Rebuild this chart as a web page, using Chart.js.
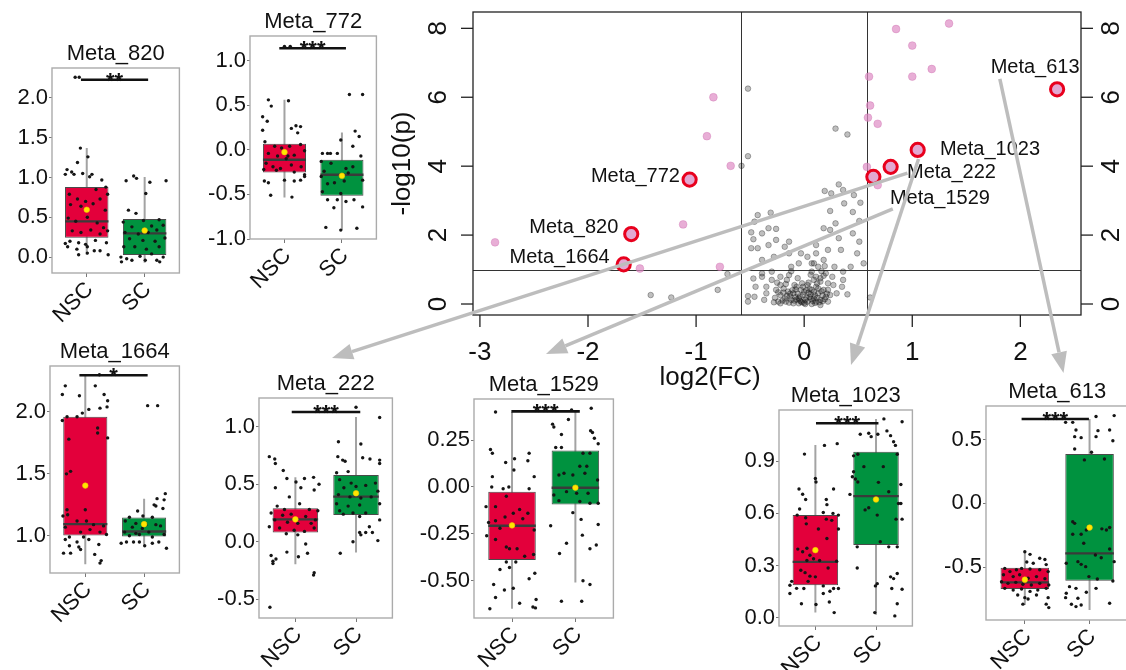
<!DOCTYPE html>
<html><head><meta charset="utf-8">
<script src="https://cdn.jsdelivr.net/npm/chart.js@4.4.1/dist/chart.umd.min.js"></script>
<style>
html,body{margin:0;padding:0;background:#fff;width:1126px;height:670px;overflow:hidden;}
#stage{position:relative;width:1126px;height:670px;overflow:hidden;}
canvas.c{position:absolute;}
</style></head>
<body><div id="stage"></div>
<script>
// ---------------- DATA ----------------
const groups = ['NSC', 'SC'];

// Volcano plot
const vXTicks = [-3, -2, -1, 0, 1, 2];
const vYTicks = [0, 2, 4, 6, 8];
const fcCut = [-0.585, 0.585];
const pCut = 1;
const hlNames = ['Meta_613','Meta_1023','Meta_222','Meta_1529','Meta_772','Meta_820','Meta_1664'];
const hlFC = [2.34, 1.05, 0.80, 0.64, -1.06, -1.60, -1.67];
const hlP = [6.23, 4.47, 3.98, 3.69, 3.61, 2.03, 1.15];
const sigPoints = [[-2.86,1.79],[-1.52,1.03],[-1.12,2.31],[-0.90,4.87],[-0.84,6.00],[-0.68,4.01],[-0.78,1.08],[0.58,3.98],[0.59,5.41],[0.61,5.76],[0.60,6.60],[0.68,5.23],[0.68,3.45],[0.85,7.98],[1.00,7.50],[1.00,6.60],[1.18,6.82],[1.34,8.14]];
const nsPoints = [[-0.52,6.25],[0.29,5.09],[0.40,4.92],[-0.52,4.29],[-0.58,4.01],[0.32,3.47],[0.19,3.28],[0.25,3.21],[0.36,3.31],[0.46,3.16],[0.52,2.94],[0.37,2.92],[0.24,2.70],[0.45,2.67],[0.29,2.34],[0.51,2.41],[-0.43,2.58],[-0.31,2.65],[-0.46,2.39],[-0.33,2.20],[-0.26,2.18],[-0.49,2.08],[-0.47,1.88],[-0.39,2.05],[-0.26,1.86],[-0.18,1.66],[-0.14,1.81],[-0.43,1.62],[-0.33,1.71],[0.18,2.20],[0.24,2.15],[0.32,1.91],[0.22,1.57],[0.34,1.57],[0.11,1.71],[0.51,1.81],[-0.39,1.28],[-0.28,1.37],[-0.14,1.47],[-0.05,1.18],[0.07,1.18],[0.18,1.28],[0.28,1.08],[0.55,1.18],[0.36,0.94],[-0.22,0.79],[-0.39,0.89],[-0.47,0.74],[-0.35,0.50],[-0.45,0.50],[0.35,0.50],[0.40,0.28],[-0.52,0.23],[-0.46,0.21],[-0.52,0.07],[-0.71,0.87],[-0.80,0.41],[-1.42,0.26],[-1.23,0.19],[0.61,0.19],
[-0.35,0.31],[-0.26,0.41],[-0.22,0.26],[-0.18,0.16],[-0.15,0.36],[-0.12,0.12],[-0.10,0.31],[-0.07,0.50],[-0.05,0.16],[-0.03,0.07],[-0.01,0.26],[0.01,0.12],[0.03,0.07],[0.05,0.21],[0.07,0.41],[0.09,0.16],[0.11,0.50],[0.13,0.31],[0.15,0.12],[0.18,0.41],[0.20,0.21],[0.22,0.60],[0.11,0.79],[0.07,0.94],[0.13,1.08],[0.09,1.18],[-0.14,0.84],[-0.12,1.08],[-0.16,0.70],[-0.22,0.55],[-0.30,0.70],[-0.10,0.02],[0.01,0.00],[-0.05,0.02],[0.07,0.00],[0.15,-0.03],[-0.17,0.07],[0.11,0.07],[-0.03,0.41],[0.03,0.55],[0.22,0.07],[0.24,0.26],[-0.24,0.07],[-0.37,0.12],[-0.22,0.02],
[0.20,0.89],[0.26,0.79],[0.15,0.65],[0.22,0.41],[0.30,0.31],[0.36,0.70],[0.43,1.08],[0.49,1.47],[0.45,2.05],[0.11,1.47],[0.03,1.37],[-0.03,1.47],[-0.39,0.79],[-0.30,0.94],[-0.49,1.62],
[-0.08,0.20],[0.00,0.35],[0.06,0.28],[-0.02,0.05],[0.12,0.18],[0.17,0.25],[-0.13,0.22],[0.04,0.62],[-0.06,0.75],[0.16,0.95],[0.19,1.10],[-0.19,0.45],[0.27,0.55],[0.10,0.03],[-0.09,0.10],
[-0.20,0.10],[-0.16,0.24],[-0.11,0.40],[-0.06,0.30],[-0.04,0.22],[0.02,0.18],[0.04,0.33],[0.08,0.09],[0.10,0.25],[0.14,0.05],[0.16,0.37],[0.19,0.14],[-0.27,0.18],[-0.24,0.34],[-0.14,0.04],[-0.07,0.13],[0.00,0.03],[0.05,0.44],[0.12,0.60],[0.15,0.75],[-0.02,0.60],[-0.09,0.55],[-0.17,0.58],[-0.25,0.62],[0.09,0.70],[0.18,0.82],[-0.12,0.95],[0.06,0.85],[-0.28,0.05],[0.21,0.30],
[-0.13,0.30],[-0.08,0.42],[-0.04,0.10],[0.02,0.40],[0.06,0.15],[0.13,0.45],[0.17,0.08],[-0.19,0.33],[-0.01,0.50],[0.09,0.35]];

// Box plots: [lowerWhisker, Q1, median, Q3, upperWhisker] for NSC, SC
const m820Box = [[0.03,0.243,0.449,0.880,1.371],[-0.07,0.025,0.298,0.478,1.006]];
const m820Mean = [0.595, 0.335];
const m820Sig = [0.90, 2.06, 2.23];
const m820Stars = '**';
const m820Ticks = [0, 0.5, 1.0, 1.5, 2.0];
const m820NSC = [[0.80,2.26],[0.87,2.26],[0.89,1.37],[0.84,1.19],[1.02,1.26],[0.66,1.10],[0.63,1.04],[0.74,1.07],[0.78,1.04],[0.93,1.05],[1.09,1.04],[1.05,1.01],[1.26,0.97],[1.33,0.88],[1.16,0.85],[0.70,0.79],[0.84,0.73],[0.98,0.70],[1.23,0.73],[1.36,0.79],[0.72,0.66],[0.90,0.64],[1.11,0.67],[1.32,0.59],[0.68,0.49],[0.81,0.45],[1.01,0.50],[1.18,0.43],[1.29,0.37],[1.36,0.33],[0.75,0.33],[0.90,0.31],[1.07,0.34],[1.23,0.29],[0.71,0.20],[0.86,0.18],[0.98,0.16],[1.15,0.21],[1.34,0.18],[0.67,0.13],[0.83,0.10],[1.01,0.13],[1.23,0.08],[0.86,0.03],[1.01,0.05],[1.37,0.03],[1.13,0.08],[0.63,0.17]];
const m820SC = [[1.81,1.02],[1.86,0.99],[1.68,0.96],[2.09,0.94],[2.37,0.96],[2.02,0.80],[1.72,0.59],[1.85,0.55],[1.63,0.44],[1.98,0.46],[2.25,0.47],[1.78,0.38],[2.12,0.39],[2.32,0.40],[1.66,0.31],[1.89,0.29],[2.06,0.31],[2.21,0.34],[1.74,0.23],[1.97,0.21],[2.18,0.20],[2.35,0.24],[1.64,0.13],[1.83,0.13],[2.03,0.10],[2.25,0.13],[1.59,0.00],[1.69,-0.02],[1.78,-0.04],[1.60,-0.06],[2.01,-0.04],[2.21,-0.04],[2.26,-0.06],[2.32,0.00],[1.92,0.01],[2.12,0.04]];

const m772Box = [[-0.534,-0.254,-0.112,0.067,0.56],[-0.896,-0.515,-0.28,-0.112,0.194]];
const m772Mean = [-0.026, -0.291];
const m772Sig = [0.91, 2.07, 1.138];
const m772Stars = '***';
const m772Ticks = [-1.0, -0.5, 0.0, 0.5, 1.0];
const m772NSC = [[1.00,1.16],[1.10,1.16],[0.72,0.56],[0.77,0.49],[0.62,0.37],[0.70,0.32],[1.07,0.55],[0.62,0.22],[1.12,0.24],[1.20,0.27],[1.28,0.26],[1.23,0.19],[0.66,0.09],[0.83,0.04],[0.95,0.02],[1.09,0.04],[1.28,0.06],[1.35,-0.01],[0.72,-0.04],[0.88,-0.07],[1.17,-0.06],[0.68,-0.15],[0.80,-0.19],[1.03,-0.10],[1.12,-0.17],[1.29,-0.19],[0.64,-0.22],[0.86,-0.23],[1.17,-0.25],[1.35,-0.28],[0.65,-0.35],[0.72,-0.37],[1.00,-0.34],[1.17,-0.35],[1.28,-0.34],[1.35,-0.30],[0.76,-0.51],[1.13,-0.53],[0.93,-0.21],[1.06,-0.07]];
const m772SC = [[2.13,0.62],[2.36,0.62],[2.23,0.21],[2.30,0.15],[1.98,0.11],[2.19,0.04],[1.66,-0.04],[1.75,-0.04],[1.80,-0.04],[1.92,-0.04],[2.33,-0.07],[1.64,-0.13],[1.81,-0.15],[2.07,-0.21],[2.19,-0.19],[1.69,-0.24],[1.98,-0.28],[2.11,-0.26],[1.75,-0.38],[1.87,-0.37],[2.04,-0.35],[1.66,-0.47],[1.98,-0.49],[1.75,-0.56],[1.92,-0.56],[2.07,-0.58],[1.86,-0.65],[2.36,-0.64],[2.21,-0.56],[1.72,-0.87],[1.98,-0.90],[2.26,-0.88],[2.36,-0.34],[1.64,-0.30]];

const m1664Box = [[0.77,1.003,1.094,1.96,2.30],[0.93,0.995,1.035,1.147,1.30]];
const m1664Mean = [1.405, 1.094];
const m1664Sig = [0.90, 2.06, 2.295];
const m1664Stars = '*';
const m1664Ticks = [1.0, 1.5, 2.0];
const m1664NSC = [[0.66,2.21],[1.17,2.21],[1.24,2.30],[0.90,2.13],[1.32,2.14],[1.38,2.09],[0.61,2.14],[1.06,2.02],[1.25,2.03],[1.37,2.04],[0.95,1.99],[0.61,1.93],[0.69,1.96],[0.86,1.96],[1.21,1.87],[1.21,1.83],[1.38,1.79],[0.72,1.78],[0.75,1.52],[0.68,1.50],[0.69,1.21],[0.70,1.17],[1.00,1.21],[0.62,1.16],[0.86,1.12],[1.02,1.12],[1.14,1.09],[1.31,1.08],[0.66,1.07],[0.92,1.03],[1.08,1.05],[1.25,1.03],[0.73,0.99],[0.97,0.99],[1.36,1.01],[0.66,0.97],[0.86,0.95],[1.06,0.97],[1.23,0.93],[0.73,0.92],[0.92,0.89],[0.63,0.86],[0.75,0.86],[1.16,0.85],[1.25,0.78],[1.27,0.80],[0.89,0.91]];
const m1664SC = [[2.06,2.05],[2.23,2.05],[2.36,1.34],[2.22,1.30],[2.34,1.29],[2.17,1.25],[2.20,1.24],[2.32,1.22],[1.89,1.20],[1.75,1.15],[1.98,1.16],[2.14,1.15],[1.68,1.12],[1.86,1.10],[2.03,1.09],[2.20,1.09],[1.80,1.07],[1.97,1.06],[2.28,1.08],[1.67,1.03],[1.86,1.02],[2.08,1.03],[2.34,1.01],[1.75,1.00],[1.92,1.01],[2.14,0.99],[1.61,0.94],[1.70,0.95],[1.82,0.95],[1.92,0.95],[2.01,0.92],[2.14,0.94],[2.38,0.90],[2.25,0.95]];

const m222Box = [[-0.195,0.081,0.195,0.291,0.561],[-0.093,0.233,0.392,0.581,1.084]];
const m222Mean = [0.195, 0.422];
const m222Sig = [0.94, 2.07, 1.128];
const m222Stars = '***';
const m222Ticks = [-0.5, 0.0, 0.5, 1.0];
const m222NSC = [[0.57,0.74],[0.66,0.72],[0.67,0.68],[0.80,0.62],[0.86,0.55],[1.01,0.52],[1.15,0.55],[1.30,0.56],[1.39,0.50],[1.31,0.45],[0.67,0.47],[1.09,0.47],[0.90,0.39],[0.70,0.31],[0.82,0.28],[1.07,0.33],[1.23,0.28],[1.37,0.27],[0.60,0.25],[0.79,0.23],[0.93,0.24],[1.17,0.22],[1.33,0.19],[0.66,0.19],[0.87,0.17],[1.04,0.16],[1.26,0.16],[0.57,0.13],[0.74,0.12],[0.98,0.10],[1.15,0.09],[1.31,0.12],[0.85,0.07],[1.04,0.06],[1.17,-0.02],[0.86,-0.09],[1.20,-0.10],[1.05,-0.13],[0.60,-0.12],[0.63,-0.17],[0.68,-0.15],[0.63,-0.19],[1.31,-0.27],[1.30,-0.29],[0.58,-0.57]];
const m222SC = [[2.00,1.17],[2.39,1.08],[1.71,0.87],[2.08,0.85],[1.70,0.74],[1.78,0.71],[1.82,0.70],[2.11,0.73],[2.23,0.72],[2.39,0.71],[2.39,0.68],[1.68,0.60],[1.87,0.61],[1.73,0.54],[1.92,0.51],[2.32,0.51],[1.80,0.47],[2.00,0.48],[2.16,0.49],[2.36,0.44],[1.71,0.41],[1.90,0.39],[2.08,0.38],[2.25,0.39],[1.68,0.33],[1.87,0.31],[2.06,0.32],[2.39,0.33],[1.73,0.27],[1.95,0.25],[2.16,0.25],[1.79,0.24],[2.06,0.22],[2.39,0.19],[2.06,0.08],[2.16,0.08],[2.27,0.08],[2.08,0.06],[1.95,0.00],[2.36,0.01],[1.74,-0.10],[2.22,0.13]];

const m1529Box = [[-0.649,-0.39,-0.207,-0.025,0.40],[-0.51,-0.093,-0.004,0.194,0.40]];
const m1529Mean = [-0.205, -0.004];
const m1529Sig = [0.99, 2.07, 0.403];
const m1529Stars = '***';
const m1529Ticks = [-0.5, -0.25, 0.0, 0.25];
const m1529NSC = [[0.74,0.40],[0.66,0.20],[0.69,0.18],[1.04,0.15],[0.90,0.13],[1.27,0.18],[1.25,0.14],[0.69,0.055],[1.03,0.09],[1.35,0.055],[0.68,0.0],[0.86,-0.01],[0.95,0.0],[1.27,-0.01],[0.91,-0.05],[0.59,-0.105],[0.74,-0.105],[1.12,-0.12],[1.25,-0.14],[0.89,-0.16],[1.02,-0.14],[0.63,-0.19],[0.74,-0.18],[1.17,-0.17],[0.81,-0.22],[1.35,-0.23],[0.60,-0.26],[0.74,-0.28],[0.91,-0.32],[0.96,-0.33],[1.08,-0.33],[1.20,-0.37],[1.34,-0.36],[0.91,-0.40],[1.06,-0.40],[0.81,-0.44],[0.96,-0.43],[1.36,-0.46],[0.71,-0.52],[1.02,-0.54],[1.27,-0.49],[0.74,-0.59],[0.88,-0.55],[1.12,-0.62],[1.38,-0.60],[0.65,-0.65],[1.33,-0.64],[1.37,-0.645]];
const m1529SC = [[1.94,0.41],[2.25,0.42],[1.64,0.335],[1.66,0.32],[1.89,0.36],[1.78,0.28],[2.24,0.30],[2.27,0.29],[2.36,0.23],[2.30,0.26],[1.69,0.21],[1.78,0.21],[2.12,0.18],[2.23,0.18],[2.07,0.11],[2.18,0.11],[1.96,0.064],[2.15,0.073],[1.74,0.064],[1.82,0.073],[2.35,0.037],[1.66,-0.043],[1.86,-0.025],[2.02,-0.034],[2.20,-0.034],[1.74,-0.073],[2.07,-0.078],[2.23,-0.087],[2.36,-0.087],[1.96,-0.137],[2.09,-0.173],[1.61,-0.207],[2.36,-0.20],[2.11,-0.257],[1.86,-0.30],[1.75,-0.355],[2.33,-0.31],[2.23,-0.33],[2.12,-0.50],[2.23,-0.52],[1.78,-0.61],[2.10,-0.61]];

const m1023Box = [[0.031,0.188,0.322,0.59,0.992],[0.019,0.418,0.699,0.954,1.142]];
const m1023Mean = [0.389, 0.680];
const m1023Sig = [1.01, 2.04, 1.117];
const m1023Stars = '***';
const m1023Ticks = [0.0, 0.3, 0.6, 0.9];
const m1023NSC = [[0.82,0.94],[1.15,0.99],[1.36,1.00],[1.00,0.80],[1.01,0.78],[0.73,0.74],[0.79,0.71],[0.84,0.68],[1.30,0.74],[1.18,0.68],[1.19,0.65],[0.74,0.625],[0.70,0.59],[0.84,0.575],[1.13,0.605],[1.29,0.60],[1.38,0.59],[0.85,0.54],[1.18,0.567],[1.27,0.56],[1.05,0.51],[1.38,0.51],[1.19,0.456],[0.71,0.395],[0.86,0.40],[0.91,0.36],[0.79,0.38],[1.35,0.326],[0.86,0.33],[0.97,0.34],[1.07,0.33],[1.21,0.287],[0.76,0.274],[0.83,0.26],[0.91,0.24],[1.00,0.236],[0.61,0.21],[0.58,0.188],[0.69,0.17],[0.88,0.21],[1.13,0.184],[1.30,0.169],[1.38,0.169],[0.58,0.14],[0.81,0.169],[1.13,0.14],[1.24,0.153],[0.77,0.082],[1.01,0.077],[1.23,0.092],[1.31,0.031]];
const m1023SC = [[2.13,1.142],[2.43,1.126],[1.74,1.054],[1.88,1.06],[1.92,1.04],[2.03,1.054],[2.18,1.073],[2.24,1.046],[2.29,1.011],[2.32,0.99],[1.63,0.93],[1.70,0.939],[2.35,0.939],[1.80,0.868],[2.12,0.868],[1.63,0.839],[1.61,0.81],[1.66,0.797],[2.04,0.778],[1.70,0.78],[2.41,0.766],[1.57,0.709],[2.21,0.724],[1.88,0.632],[1.82,0.62],[2.37,0.657],[2.41,0.657],[2.02,0.59],[2.43,0.567],[2.33,0.567],[2.07,0.437],[1.69,0.408],[2.21,0.408],[2.35,0.408],[1.69,0.287],[1.99,0.184],[2.02,0.197],[2.24,0.236],[2.29,0.226],[2.35,0.255],[2.26,0.169],[2.43,0.165],[2.35,0.082],[1.98,0.031],[2.31,0.012]];

const m613Box = [[-0.796,-0.671,-0.619,-0.504,-0.384],[-0.836,-0.606,-0.392,0.386,0.66]];
const m613Mean = [-0.598, -0.19];
const m613Sig = [0.95, 1.99, 0.66];
const m613Stars = '***';
const m613Ticks = [-0.5, 0.0, 0.5];
const m613NSC = [[1.00,-0.38],[1.08,-0.40],[1.23,-0.43],[1.31,-0.44],[1.03,-0.46],[1.13,-0.47],[1.33,-0.48],[0.69,-0.51],[0.77,-0.535],[0.87,-0.52],[0.95,-0.51],[1.08,-0.514],[1.23,-0.52],[1.36,-0.535],[0.67,-0.56],[0.82,-0.574],[0.92,-0.56],[1.05,-0.587],[1.18,-0.574],[1.31,-0.59],[0.64,-0.614],[0.74,-0.627],[0.86,-0.619],[0.97,-0.634],[1.10,-0.64],[1.23,-0.627],[1.37,-0.64],[0.69,-0.666],[0.82,-0.68],[0.95,-0.671],[1.08,-0.69],[1.20,-0.68],[1.33,-0.666],[0.89,-0.718],[1.00,-0.739],[1.05,-0.75],[1.18,-0.718],[1.36,-0.739],[1.33,-0.79],[1.37,-0.817],[0.97,-0.79]];
const m613SC = [[1.63,0.634],[1.74,0.634],[2.10,0.68],[2.38,0.687],[1.79,0.574],[2.13,0.569],[1.77,0.522],[1.87,0.514],[2.10,0.522],[2.31,0.574],[2.36,0.49],[1.77,0.425],[2.03,0.40],[1.92,0.34],[2.23,0.347],[1.74,-0.144],[1.77,-0.157],[1.95,-0.209],[2.19,-0.20],[2.26,-0.209],[2.31,-0.19],[1.74,-0.243],[1.87,-0.243],[1.91,-0.313],[2.31,-0.358],[1.64,-0.47],[1.82,-0.457],[1.87,-0.478],[1.94,-0.496],[2.09,-0.405],[2.18,-0.426],[2.38,-0.457],[1.99,-0.574],[2.12,-0.593],[2.36,-0.608],[1.69,-0.653],[1.79,-0.666],[1.95,-0.697],[2.10,-0.666],[1.63,-0.739],[1.82,-0.744],[1.72,-0.791],[1.79,-0.809],[1.87,-0.796],[2.31,-0.783],[1.64,-0.705]];

// ---------------- LAYOUT / STYLE ----------------
const FONT = "'Liberation Sans', Arial, Helvetica, sans-serif";
const RED = '#e3003b', GREEN = '#00923f';
const stage = document.getElementById('stage');

function makeCanvas(left, top, w, h) {
  const cv = document.createElement('canvas');
  cv.className = 'c';
  cv.width = w; cv.height = h;
  cv.style.left = left + 'px'; cv.style.top = top + 'px';
  cv.style.width = w + 'px'; cv.style.height = h + 'px';
  stage.appendChild(cv);
  return cv;
}
const toXY = arr => arr.map(([x, y]) => ({x, y}));

// ---------------- VOLCANO ----------------
const VOL = {left: 380, top: 0, w: 746, h: 400};
const volLabels = [
  {i: 0, x: 1.725, y: 6.85, align: 'left'},
  {i: 1, x: 1.256, y: 4.47, align: 'left'},
  {i: 2, x: 0.951, y: 3.83, align: 'left'},
  {i: 3, x: 0.793, y: 3.05, align: 'left'},
  {i: 4, x: -1.15, y: 3.69, align: 'right'},
  {i: 5, x: -1.72, y: 2.21, align: 'right'},
  {i: 6, x: -1.80, y: 1.36, align: 'right'}
];
const volPlugin = {
  id: 'volDeco',
  beforeDatasetsDraw(chart) {
    const {ctx, chartArea: a, scales: {x, y}} = chart;
    ctx.save();
    ctx.strokeStyle = '#333'; ctx.lineWidth = 1;
    fcCut.forEach(v => {
      const px = Math.round(x.getPixelForValue(v)) + 0.5;
      ctx.beginPath(); ctx.moveTo(px, a.top); ctx.lineTo(px, a.bottom); ctx.stroke();
    });
    const py = Math.round(y.getPixelForValue(pCut)) + 0.5;
    ctx.beginPath(); ctx.moveTo(a.left, py); ctx.lineTo(a.right, py); ctx.stroke();
    ctx.restore();
  },
  afterDraw(chart) {
    const {ctx, chartArea: a, scales: {x, y}} = chart;
    ctx.save();
    ctx.strokeStyle = '#222'; ctx.lineWidth = 1.3;
    ctx.strokeRect(a.left, a.top, a.right - a.left, a.bottom - a.top);
    ctx.fillStyle = '#111';
    ctx.font = '26px ' + FONT;
    ctx.textAlign = 'center'; ctx.textBaseline = 'middle';
    vYTicks.forEach(v => {
      const py = y.getPixelForValue(v);
      ctx.beginPath(); ctx.moveTo(a.left - 12, py); ctx.lineTo(a.left, py); ctx.stroke();
      ctx.beginPath(); ctx.moveTo(a.right, py); ctx.lineTo(a.right + 12, py); ctx.stroke();
      [a.left - 35, a.right + 30].forEach(cx => {
        ctx.save(); ctx.translate(cx, py); ctx.rotate(-Math.PI / 2);
        ctx.fillText(String(v), 0, 1); ctx.restore();
      });
    });
    vXTicks.forEach(v => {
      const px = x.getPixelForValue(v);
      ctx.beginPath(); ctx.moveTo(px, a.bottom); ctx.lineTo(px, a.bottom + 12); ctx.stroke();
      ctx.fillText(String(v), px, a.bottom + 38);
    });
    ctx.save(); ctx.translate(a.left - 70, (a.top + a.bottom) / 2); ctx.rotate(-Math.PI / 2);
    ctx.fillText('-log10(p)', 0, 0); ctx.restore();
    ctx.fillText('log2(FC)', a.left + 237, a.bottom + 63);
    ctx.font = '20px ' + FONT;
    volLabels.forEach(l => {
      ctx.textAlign = l.align;
      ctx.fillText(hlNames[l.i], x.getPixelForValue(l.x), y.getPixelForValue(l.y));
    });
    ctx.restore();
  }
};
const volCanvas = makeCanvas(VOL.left, VOL.top, VOL.w, VOL.h);
const volChart = new Chart(volCanvas, {
  type: 'scatter',
  data: {datasets: [
    {data: hlFC.map((v, i) => ({x: v, y: hlP[i]})), pointRadius: 6.6, backgroundColor: '#e2a8d2', borderColor: '#e8001d', borderWidth: 3, order: 0},
    {data: toXY(sigPoints), pointRadius: 3.9, backgroundColor: 'rgba(222,140,196,0.7)', borderColor: 'rgba(205,110,175,0.6)', borderWidth: 0.6, order: 1},
    {data: toXY(nsPoints), pointRadius: 2.8, backgroundColor: 'rgba(20,20,20,0.27)', borderColor: 'rgba(20,20,20,0.45)', borderWidth: 0.7, order: 2}
  ]},
  options: {
    responsive: false, animation: false, devicePixelRatio: 1,
    layout: {padding: {left: 93, top: 12, right: 45, bottom: 85}},
    plugins: {legend: {display: false}, tooltip: {enabled: false}},
    scales: {
      x: {display: false, type: 'linear', min: -3.064, max: 2.561},
      y: {display: false, type: 'linear', min: -0.319, max: 8.474}
    }
  },
  plugins: [volPlugin]
});

// ---------------- BOX PLOTS ----------------
const boxSpecs = [
  {key: 'm820', title: 'Meta_820', panel: {l: 52, t: 68, r: 180, b: 273}, yMin: -0.2, yMax: 2.377, dec: 1, box: m820Box, mean: m820Mean, sig: m820Sig, stars: m820Stars, ticks: m820Ticks, nsc: m820NSC, sc: m820SC},
  {key: 'm772', title: 'Meta_772', panel: {l: 250, t: 36, r: 377, b: 239}, yMin: -1.0, yMax: 1.276, dec: 1, box: m772Box, mean: m772Mean, sig: m772Sig, stars: m772Stars, ticks: m772Ticks, nsc: m772NSC, sc: m772SC},
  {key: 'm1664', title: 'Meta_1664', panel: {l: 50, t: 366, r: 180, b: 573}, yMin: 0.70, yMax: 2.37, dec: 1, box: m1664Box, mean: m1664Mean, sig: m1664Sig, stars: m1664Stars, ticks: m1664Ticks, nsc: m1664NSC, sc: m1664SC},
  {key: 'm222', title: 'Meta_222', panel: {l: 259, t: 398, r: 393, b: 618}, yMin: -0.663, yMax: 1.25, dec: 1, box: m222Box, mean: m222Mean, sig: m222Sig, stars: m222Stars, ticks: m222Ticks, nsc: m222NSC, sc: m222SC},
  {key: 'm1529', title: 'Meta_1529', panel: {l: 474, t: 399, r: 614, b: 618}, yMin: -0.699, yMax: 0.469, dec: 2, box: m1529Box, mean: m1529Mean, sig: m1529Sig, stars: m1529Stars, ticks: m1529Ticks, nsc: m1529NSC, sc: m1529SC},
  {key: 'm1023', title: 'Meta_1023', panel: {l: 779, t: 410, r: 913, b: 626}, yMin: -0.046, yMax: 1.193, dec: 1, box: m1023Box, mean: m1023Mean, sig: m1023Sig, stars: m1023Stars, ticks: m1023Ticks, nsc: m1023NSC, sc: m1023SC},
  {key: 'm613', title: 'Meta_613', panel: {l: 986, t: 406, r: 1129, b: 620}, yMin: -0.914, yMax: 0.762, dec: 1, box: m613Box, mean: m613Mean, sig: m613Sig, stars: m613Stars, ticks: m613Ticks, nsc: m613NSC, sc: m613SC}
];

const panels = {};
function boxChart(s) {
  const p = s.panel;
  const padL = 58, padT = 44, padR = 4, padB = 72;
  const cw = p.r - p.l + padL + padR, ch = p.b - p.t + padT + padB;
  const cv = makeCanvas(p.l - padL, p.t - padT, cw, ch);
  panels[s.key] = p;
  const [bN, bS] = s.box;
  const ds = [];
  ds.push({data: [{x: s.sig[0], y: s.sig[2]}, {x: s.sig[1], y: s.sig[2]}], showLine: true, borderColor: '#111', borderWidth: 2.6, pointRadius: 0, order: 0});
  ds.push({data: [{x: 1, y: s.mean[0]}, {x: 2, y: s.mean[1]}], pointRadius: 2.8, backgroundColor: '#ffe600', borderColor: '#f2c200', borderWidth: 0.6, order: 1});
  ds.push({data: toXY(s.nsc), pointRadius: 1.7, backgroundColor: '#151515', borderWidth: 0, order: 2});
  ds.push({data: toXY(s.sc), pointRadius: 1.7, backgroundColor: '#151515', borderWidth: 0, order: 2});
  [[1, bN], [2, bS]].forEach(([c, b]) => ds.push({data: [{x: c - 0.375, y: b[2]}, {x: c + 0.375, y: b[2]}], showLine: true, borderColor: '#3a3a3a', borderWidth: 2.4, pointRadius: 0, order: 3}));
  ds.push({type: 'bar', data: [{x: 1, y: [bN[1], bN[3]]}, {x: 2, y: [bS[1], bS[3]]}], backgroundColor: [RED, GREEN], borderColor: '#4a4a4a', borderWidth: 1, borderSkipped: false, barPercentage: 0.75, categoryPercentage: 1, grouped: false, order: 4});
  [[1, bN], [2, bS]].forEach(([c, b]) => ds.push({data: [{x: c, y: b[0]}, {x: c, y: b[4]}], showLine: true, borderColor: '#a3a3a3', borderWidth: 2, pointRadius: 0, order: 5}));

  const deco = {
    id: 'boxDeco',
    afterDatasetsDraw(chart) {
      const {ctx, chartArea: a, scales: {x, y}} = chart;
      ctx.save();
      ctx.fillStyle = '#111';
      ctx.font = 'bold 22px ' + FONT; ctx.textAlign = 'center'; ctx.textBaseline = 'alphabetic';
      ctx.fillText(s.stars, x.getPixelForValue((s.sig[0] + s.sig[1]) / 2), y.getPixelForValue(s.sig[2]) + 8);
      ctx.strokeStyle = '#ababab'; ctx.lineWidth = 1.4;
      ctx.strokeRect(a.left, a.top, a.right - a.left, a.bottom - a.top);
      ctx.font = '22px ' + FONT; ctx.fillStyle = '#111';
      ctx.fillText(s.title, (a.left + a.right) / 2, a.top - 8);
      ctx.restore();
    }
  };
  const tickFont = {size: 22, family: FONT};
  return new Chart(cv, {
    type: 'scatter',
    data: {datasets: ds},
    options: {
      responsive: false, animation: false, devicePixelRatio: 1,
      layout: {padding: {left: 0, top: padT, right: padR, bottom: 0}},
      plugins: {legend: {display: false}, tooltip: {enabled: false}},
      scales: {
        x: {
          type: 'linear', min: 0.4, max: 2.6, offset: false,
          afterBuildTicks(sc) { sc.ticks = groups.map((g, i) => ({value: i + 1})); },
          afterFit(sc) { sc.height = padB; },
          ticks: {callback: v => groups[Math.round(v) - 1], font: tickFont, color: '#111', minRotation: 45, maxRotation: 45, padding: 0, labelOffset: 3, autoSkip: false},
          grid: {display: true, offset: false, drawOnChartArea: false, drawTicks: true, tickLength: 4, color: '#777'},
          border: {display: false}
        },
        y: {
          type: 'linear', min: s.yMin, max: s.yMax,
          afterBuildTicks(sc) { sc.ticks = s.ticks.map(v => ({value: v})); },
          afterFit(sc) { sc.width = padL; },
          ticks: {callback: v => Number(v).toFixed(s.dec), font: tickFont, color: '#111', padding: 1, autoSkip: false},
          grid: {display: true, drawOnChartArea: false, drawTicks: true, tickLength: 3, color: '#777'},
          border: {display: false}
        }
      }
    },
    plugins: [deco]
  });
}
boxSpecs.forEach(boxChart);

// ---------------- ARROWS (annotation overlay) ----------------
const arrowSpecs = [
  {from: [0.955, 3.80], to: 'm222', dx: 6, dy: -40},
  {from: [0.82, 2.76], to: 'm1529', dx: 2, dy: -45},
  {from: [1.058, 4.21], to: 'm1023', dx: 5, dy: -45},
  {from: [1.81, 6.53], to: 'm613', dx: 6, dy: -33}
];
const ov = makeCanvas(0, 0, 1126, 670);
const octx = ov.getContext('2d');
octx.strokeStyle = '#bdbdbd'; octx.fillStyle = '#bdbdbd'; octx.lineWidth = 3.5; octx.lineCap = 'butt';
arrowSpecs.forEach(a => {
  const x0 = VOL.left + volChart.scales.x.getPixelForValue(a.from[0]);
  const y0 = VOL.top + volChart.scales.y.getPixelForValue(a.from[1]);
  const p = panels[a.to];
  const x1 = (p.l + p.r) / 2 + a.dx, y1 = p.t + a.dy;
  const ang = Math.atan2(y1 - y0, x1 - x0);
  const hl = 21, hw = 8;
  const bx = x1 - hl * Math.cos(ang), by = y1 - hl * Math.sin(ang);
  octx.beginPath(); octx.moveTo(x0, y0); octx.lineTo(bx, by); octx.stroke();
  octx.beginPath();
  octx.moveTo(x1, y1);
  octx.lineTo(bx + hw * Math.sin(ang), by - hw * Math.cos(ang));
  octx.lineTo(bx - hw * Math.sin(ang), by + hw * Math.cos(ang));
  octx.closePath(); octx.fill();
});
</script>
</body></html>
